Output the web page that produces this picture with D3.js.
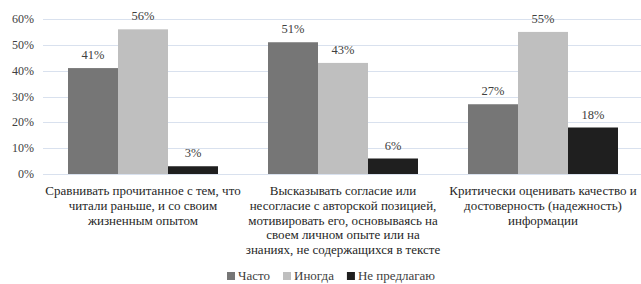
<!DOCTYPE html>
<html>
<head>
<meta charset="utf-8">
<script src="https://cdn.jsdelivr.net/npm/d3@7"></script>
<style>
  html, body { margin: 0; padding: 0; background: #fff; }
  svg { display: block; }
  svg text { font-family: "Liberation Serif", "Times New Roman", Tinos, "DejaVu Serif", serif; }
</style>
</head>
<body>
<svg id="chart" width="641" height="284"></svg>
<script>
const categories = [
  "Сравнивать прочитанное с тем, что читали раньше, и со своим жизненным опытом",
  "Высказывать согласие или несогласие с авторской позицией, мотивировать его, основываясь на своем личном опыте или на знаниях, не содержащихся в тексте",
  "Критически оценивать качество и достоверность (надежность) информации"
];
const categoryLines = [
  ["Сравнивать прочитанное с тем, что", "читали раньше, и со своим", "жизненным опытом"],
  ["Высказывать согласие или", "несогласие с авторской позицией,", "мотивировать его, основываясь на", "своем личном опыте или на", "знаниях, не содержащихся в тексте"],
  ["Критически оценивать качество и", "достоверность (надежность)", "информации"]
];
const seriesNames = ["Часто", "Иногда", "Не предлагаю"];
const often = [41, 51, 27];
const sometimes = [56, 43, 55];
const never = [3, 6, 18];
const yTicks = [0, 10, 20, 30, 40, 50, 60];
const colors = ["#767676", "#bfbfbf", "#1f1f1f"];

const seriesValues = [often, sometimes, never];
const svg = d3.select("#chart");

const x0 = d3.scaleBand().domain(categories).range([43, 643]).paddingInner(0.25).paddingOuter(0.125);
const x1 = d3.scaleBand().domain(seriesNames).range([0, x0.bandwidth()]);
const y = d3.scaleLinear().domain([0, 60]).range([174, 19]);

// gridlines
svg.append("g").selectAll("line").data(yTicks).join("line")
  .attr("x1", 43).attr("x2", 641)
  .attr("y1", d => Math.round(y(d)) + 0.5).attr("y2", d => Math.round(y(d)) + 0.5)
  .attr("stroke", "#d9e1ee").attr("stroke-width", 1);

// y tick labels
svg.append("g").selectAll("text").data(yTicks).join("text")
  .attr("x", 34).attr("y", d => y(d) + 4)
  .attr("text-anchor", "end")
  .attr("font-size", 12).attr("fill", "#404040")
  .text(d => d + "%");

// bars
const groups = svg.append("g").selectAll("g").data(categories).join("g")
  .attr("transform", d => `translate(${x0(d)},0)`);

groups.selectAll("rect").data((d, i) => seriesNames.map((s, j) => ({ s, v: seriesValues[j][i], j })))
  .join("rect")
  .attr("x", d => x1(d.s)).attr("width", x1.bandwidth())
  .attr("y", d => y(d.v)).attr("height", d => y(0) - y(d.v))
  .attr("fill", d => colors[d.j]);

groups.selectAll("text.val").data((d, i) => seriesNames.map((s, j) => ({ s, v: seriesValues[j][i], j })))
  .join("text").attr("class", "val")
  .attr("x", d => x1(d.s) + x1.bandwidth() / 2)
  .attr("y", d => y(d.v) - 9)
  .attr("text-anchor", "middle")
  .attr("font-size", 12.5).attr("fill", "#404040")
  .text(d => d.v + "%");

// category labels
categories.forEach((c, i) => {
  const t = svg.append("text")
    .attr("text-anchor", "middle")
    .attr("font-size", 13).attr("fill", "#262626");
  categoryLines[i].forEach((line, k) => {
    t.append("tspan").attr("x", x0(c) + x0.bandwidth() / 2).attr("y", 195 + k * 14.8).text(line);
  });
});

// legend
const legend = svg.append("g");
let lx = 227;
seriesNames.forEach((s, j) => {
  legend.append("rect").attr("x", lx).attr("y", 272).attr("width", 8).attr("height", 8).attr("fill", colors[j]);
  const t = legend.append("text").attr("x", lx + 11).attr("y", 280)
    .attr("font-size", 13).attr("fill", "#404040").text(s);
  lx += 11 + t.node().getComputedTextLength() + 13;
});
</script>
</body>
</html>
